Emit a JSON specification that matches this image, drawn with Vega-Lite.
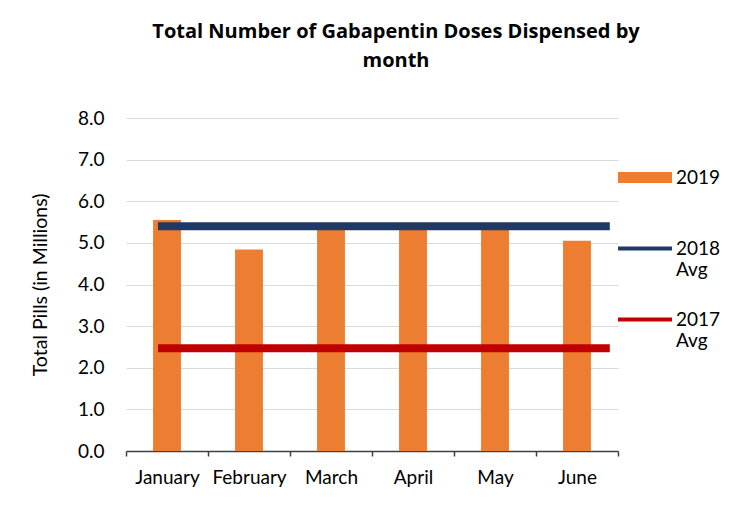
{
  "$schema": "https://vega.github.io/schema/vega-lite/v6.json",
  "autosize": {"type": "none"},
  "width": 492,
  "height": 333,
  "padding": {"left": 126, "top": 118, "right": 112, "bottom": 74},
  "background": "white",
  "config": {
    "font": "Lato",
    "view": {"stroke": null},
    "axis": {"labelFont": "Lato", "titleFont": "Lato", "labelColor": "#000000", "titleColor": "#000000"}
  },
  "title": {
    "text": ["Total Number of Gabapentin Doses Dispensed by", "month"],
    "font": "Open Sans",
    "fontSize": 20,
    "fontWeight": "bold",
    "color": "#000000",
    "anchor": "middle",
    "frame": "group",
    "dx": 24,
    "offset": 38,
    "lineHeight": 29
  },
  "datasets": {
    "bars": [
      {"month": "January", "value": 5.55, "series": "2019"},
      {"month": "February", "value": 4.84, "series": "2019"},
      {"month": "March", "value": 5.35, "series": "2019"},
      {"month": "April", "value": 5.35, "series": "2019"},
      {"month": "May", "value": 5.35, "series": "2019"},
      {"month": "June", "value": 5.05, "series": "2019"}
    ],
    "avgs": [
      {"start": "January", "end": "June", "value": 5.40, "series": "2018 Avg"},
      {"start": "January", "end": "June", "value": 2.47, "series": "2017 Avg"}
    ]
  },
  "layer": [
    {
      "data": {"name": "bars"},
      "mark": {"type": "bar", "width": {"band": 0.34}},
      "encoding": {
        "x": {
          "field": "month",
          "type": "nominal",
          "sort": ["January", "February", "March", "April", "May", "June"],
          "scale": {"domain": ["January", "February", "March", "April", "May", "June"], "paddingInner": 0, "paddingOuter": 0},
          "axis": {
            "title": null,
            "labelAngle": 0,
            "labelFontSize": 19,
            "labelPadding": 12,
            "tickBand": "extent",
            "ticks": true,
            "tickSize": 5,
            "tickColor": "#404040",
            "domainColor": "#404040",
            "domainWidth": 1.5,
            "tickWidth": 1.5,
            "grid": false
          }
        },
        "y": {
          "field": "value",
          "type": "quantitative",
          "scale": {"domain": [0, 8], "nice": false},
          "axis": {
            "title": "Total Pills (in Millions)",
            "titleFontSize": 19.5,
            "titleFontWeight": "normal",
            "titlePadding": 27,
            "values": [0, 1, 2, 3, 4, 5, 6, 7, 8],
            "format": ".1f",
            "labelFontSize": 19,
            "labelPadding": 22,
            "ticks": false,
            "domain": false,
            "grid": true,
            "gridColor": "#D9D9D9",
            "gridWidth": 1.2
          }
        },
        "color": {
          "field": "series",
          "type": "nominal",
          "scale": {"domain": ["2019", "2018 Avg", "2017 Avg"], "range": ["#ED7D31", "#203864", "#C00000"]},
          "legend": {
            "title": null,
            "orient": "none",
            "legendX": 492,
            "legendY": 24,
            "padding": 0,
            "symbolSize": 2916,
            "symbolStrokeWidth": 0,
            "labelFont": "Lato",
            "labelFontSize": 19,
            "labelColor": "#000000",
            "labelOffset": 4,
            "labelBaseline": "top",
            "clipHeight": 71,
            "rowPadding": 0,
            "labelExpr": "datum.label == '2019' ? datum.label : split(datum.label, ' ')",
            "encode": {
              "symbols": {
                "update": {
                  "shape": {"signal": "datum.value === '2019' ? 'M-1,-0.2H1V0.2H-1Z' : 'M-1,-0.07H1V0.07H-1Z'"},
                  "fill": {"signal": "scale('color', datum.value)"},
                  "fillOpacity": {"value": 1},
                  "stroke": {"value": "transparent"}
                }
              },
              "labels": {
                "update": {"dy": {"value": -9}}
              }
            }
          }
        }
      }
    },
    {
      "data": {"name": "avgs"},
      "mark": {"type": "rule", "strokeWidth": 8},
      "encoding": {
        "x": {"field": "start", "type": "nominal", "bandPosition": 0.39},
        "x2": {"field": "end", "bandPosition": 0.9},
        "y": {"field": "value", "type": "quantitative"},
        "color": {"field": "series", "type": "nominal"}
      }
    }
  ]
}
